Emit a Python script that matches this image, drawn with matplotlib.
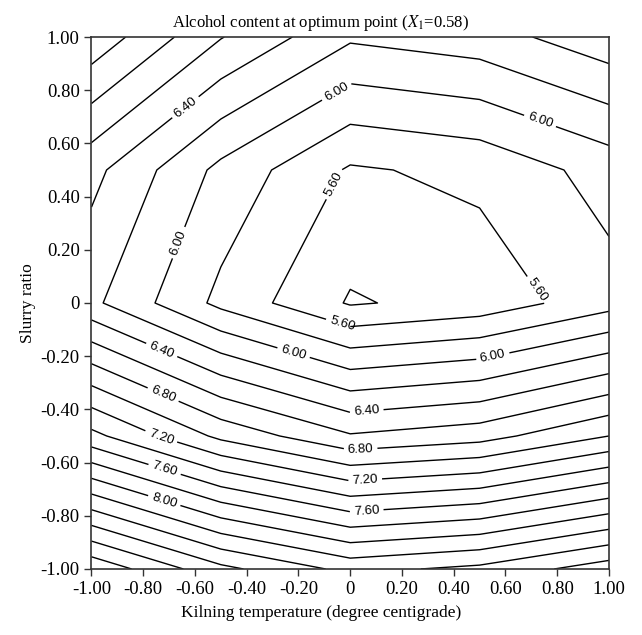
import numpy as np
import matplotlib.pyplot as plt

plt.rcParams['font.family'] = 'Liberation Serif'
plt.rcParams['mathtext.fontset'] = 'stix'

# grid of the response surface (coded units)
temp = [-1.0, -0.5, 0.0, 0.5, 1.0]      # kilning temperature
slurry = [-1.0, -0.5, 0.0, 0.5, 1.0]    # slurry ratio

# alcohol content, one row per slurry ratio (from -1 up to 1)
alc_s_m100 = [9.155, 8.655, 8.34, 8.45, 8.71]
alc_s_m050 = [7.46, 6.95, 6.62, 6.72, 7.00]
alc_s_000 = [6.245, 5.746, 5.38, 5.475, 5.72]
alc_s_050 = [6.46, 5.945, 5.575, 5.65, 5.88]
alc_s_100 = [7.14, 6.61, 6.23, 6.31, 6.53]

label_levels = [5.6, 6.0, 6.4, 6.8, 7.2, 7.6, 8.0]
plain_levels = [5.4, 5.8, 6.2, 6.6, 7.0, 7.4, 7.8, 8.2, 8.4, 8.6, 8.8, 9.0]

tick_vals = [-1.0, -0.8, -0.6, -0.4, -0.2, 0.0, 0.2, 0.4, 0.6, 0.8, 1.0]
tick_labels = ['-1.00', '-0.80', '-0.60', '-0.40', '-0.20', '0',
               '0.20', '0.40', '0.60', '0.80', '1.00']

Z = np.array([alc_s_m100, alc_s_m050, alc_s_000, alc_s_050, alc_s_100])

# where the labels sit on the lines
label_pos = [(-0.07, 0.45), (0.71, 0.04), (-0.03, -0.076),
             (-0.05, 0.79), (0.73, 0.675), (-0.656, 0.224), (-0.22, -0.19), (0.55, -0.195),
             (-0.64, 0.74), (-0.73, -0.18), (0.064, -0.41),
             (-0.73, -0.36), (0.04, -0.55),
             (-0.73, -0.50), (0.058, -0.668),
             (-0.72, -0.634), (0.064, -0.788),
             (-0.72, -0.747)]

fig = plt.figure(figsize=(6.42, 6.35), dpi=100)
ax = fig.add_axes([0.1425, 0.104, 0.8061, 0.8377])

ax.contour(temp, slurry, Z, levels=plain_levels, colors='black', linewidths=1.0)
cs = ax.contour(temp, slurry, Z, levels=label_levels, colors='black', linewidths=1.0)
with plt.rc_context({'font.family': 'Liberation Sans'}):
    ax.clabel(cs, manual=label_pos, fmt='%.2f',
              fontsize=9.5, inline=True, inline_spacing=4)

ax.set_xlim(-1, 1)
ax.set_ylim(-1, 1)
ax.set_xticks(tick_vals, tick_labels)
ax.set_yticks(tick_vals, tick_labels)
ax.tick_params(direction='out', length=5, width=1.0, labelsize=13.5, color='#333333')
for s in ax.spines.values():
    s.set_color('#333333')
    s.set_linewidth(1.2)

# title and x label are centred on the figure, not on the axes
ax.set_title('Alcohol content at optimum point ($X_1$=0.58)', fontsize=12, pad=7, x=0.443)
ax.set_xlabel('Kilning temperature (degree centigrade)', fontsize=12.5, labelpad=5, x=0.443)
ax.set_ylabel('Slurry ratio', fontsize=12.5, labelpad=3)

fig.savefig('out.png', dpi=100)
